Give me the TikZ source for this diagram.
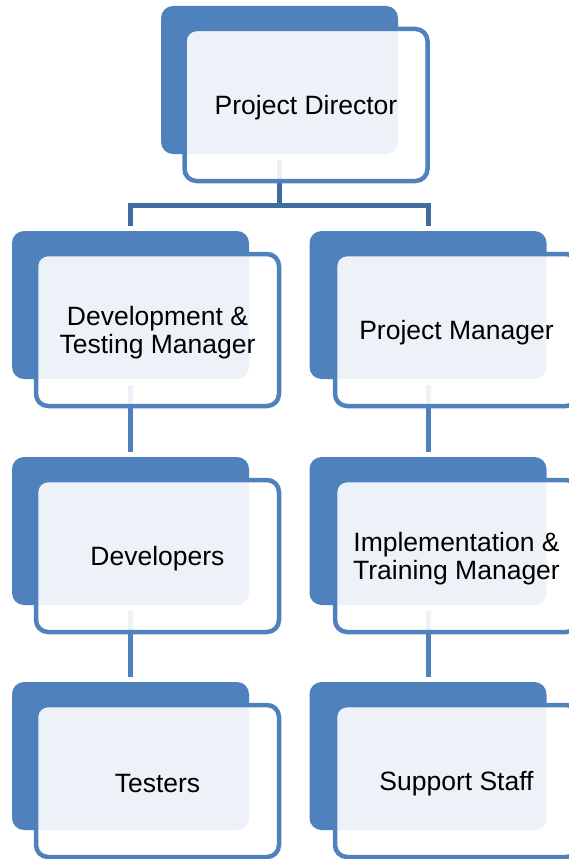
\documentclass[tikz,border=0pt]{standalone}
\usepackage{fontspec}
\setmainfont{Liberation Sans}
\definecolor{accent}{HTML}{4F81BD}
\definecolor{treeblue}{HTML}{3F6C9E}
\begin{document}
\begin{tikzpicture}[x=1pt,y=-1pt,
  backbox/.style={rectangle, rounded corners=12pt, fill=accent, draw=none,
    inner sep=0pt, outer sep=0pt, minimum width=237pt, minimum height=148pt},
  frontbox/.style={rectangle, rounded corners=12pt, draw=accent, line width=4.5pt,
    fill=white, fill opacity=0.9, inner sep=0pt,
    minimum width=243pt, minimum height=152pt},
  cardtext/.style={text=black, align=center, inner sep=0pt,
    font=\fontsize{26.5}{28}\selectfont},
  link/.style={draw=accent, line width=5pt, shorten <=6pt, shorten >=5pt},
  treeline/.style={draw=treeblue, line width=5pt}]
\useasboundingbox (0,0) rectangle (569,859);
\clip (0,0) rectangle (569,859);

% dark back plates
\node[backbox] (pdb) at (279.5,80) {};
\node[backbox] (dtb) at (130.5,305) {};
\node[backbox] (dvb) at (130.5,531) {};
\node[backbox] (tsb) at (130.5,756) {};
\node[backbox] (pmb) at (428,305) {};
\node[backbox] (itb) at (428,531) {};
\node[backbox] (ssb) at (428,756) {};

% connectors
\coordinate (bar) at (279.5,205.5);
\draw[treeline] ([yshift=-6pt]pdb.south) -- (bar);
\draw[treeline] ([yshift=5pt]dtb.north) |- (bar) -| ([yshift=5pt]pmb.north);
\draw[link] (dtb.south) -- (dvb.north);
\draw[link] (dvb.south) -- (tsb.north);
\draw[link] (pmb.south) -- (itb.north);
\draw[link] (itb.south) -- (ssb.north);

% light front cards
\node[frontbox] (pd) at (306,105) {};
\node[frontbox] (dt) at (157.5,330) {};
\node[frontbox] (dv) at (157.5,556) {};
\node[frontbox] (ts) at (157.5,781) {};
\node[frontbox] (pm) at (456.5,330) {};
\node[frontbox] (it) at (456.5,556) {};
\node[frontbox] (ss) at (456.5,781) {};

% labels
\node[cardtext] (pdt) at ([yshift=-3pt]pd.center) {Project Director};
\node[cardtext] (dtt) at ([yshift=-3pt]dt.center) {Development \&\\Testing Manager};
\node[cardtext] (dvt) at ([yshift=-3pt]dv.center) {Developers};
\node[cardtext] (tst) at ([yshift=-3pt]ts.center) {Testers};
\node[cardtext] (pmt) at ([yshift=-3pt]pm.center) {Project Manager};
\node[cardtext] (itt) at ([yshift=-3pt]it.center) {Implementation \&\\Training Manager};
\node[cardtext] (sst) at ([yshift=-3pt]ss.center) {Support Staff};
\end{tikzpicture}
\end{document}
